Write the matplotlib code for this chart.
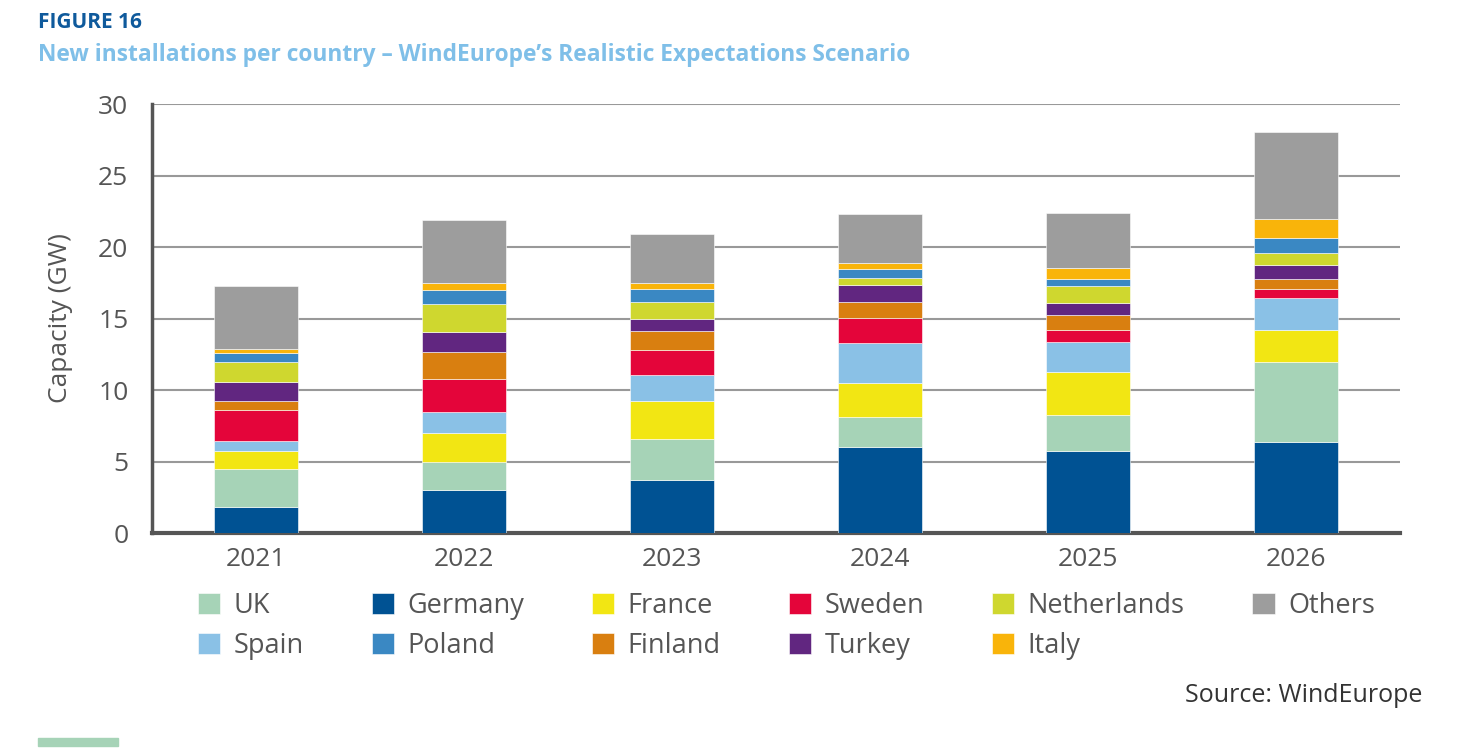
import numpy as np
import matplotlib
matplotlib.use("Agg")
from matplotlib import pyplot as plt
from matplotlib.patches import Rectangle

# values (GW)
years = ["2021", "2022", "2023", "2024", "2025", "2026"]
germany = [1.84, 2.98, 3.73, 6.04, 5.76, 6.36]
uk = [2.64, 1.99, 2.84, 2.05, 2.51, 5.62]
france = [1.25, 2.02, 2.66, 2.40, 2.99, 2.22]
spain = [0.72, 1.49, 1.80, 2.77, 2.10, 2.23]
sweden = [2.15, 2.27, 1.79, 1.80, 0.84, 0.63]
finland = [0.63, 1.89, 1.28, 1.07, 1.07, 0.72]
turkey = [1.35, 1.44, 0.84, 1.23, 0.83, 0.96]
netherlands = [1.40, 1.91, 1.19, 0.45, 1.17, 0.86]
poland = [0.63, 0.98, 0.93, 0.65, 0.51, 1.05]
italy = [0.23, 0.51, 0.42, 0.42, 0.77, 1.31]
others = [4.46, 4.39, 3.41, 3.41, 3.83, 6.06]

# stacking order bottom -> top
stack = [("Germany", germany, "#005293"),
         ("UK", uk, "#A6D3B7"),
         ("France", france, "#F2E613"),
         ("Spain", spain, "#8AC1E6"),
         ("Sweden", sweden, "#E4053A"),
         ("Finland", finland, "#D97F10"),
         ("Turkey", turkey, "#612680"),
         ("Netherlands", netherlands, "#CFD72F"),
         ("Poland", poland, "#3A88C3"),
         ("Italy", italy, "#F9B40A"),
         ("Others", others, "#9D9D9D")]

# legend order (filled column by column)
legend_order = ["UK", "Spain", "Germany", "Poland", "France", "Finland",
                "Sweden", "Turkey", "Netherlands", "Italy", "Others"]

plt.rcParams['font.family'] = ['Open Sans', 'DejaVu Sans']
grey = "#555555"

fig = plt.figure(figsize=(14.66, 7.5), dpi=100)
ax = fig.add_axes([0.1037, 0.2893, 0.8513, 0.572])

x = np.arange(len(years))
bottom = np.zeros(len(years))
bars = {}
for name, vals, col in stack:
    bars[name] = ax.bar(x, vals, 0.4, bottom=bottom, color=col, label=name,
                        edgecolor="white", linewidth=0.4, zorder=3)
    bottom += np.array(vals)

ax.set_xlim(-0.5, 5.5)
ax.set_ylim(0, 30)
ax.set_yticks([0, 5, 10, 15, 20, 25, 30])
ax.set_xticks(x)
ax.set_xticklabels(years)
ax.yaxis.grid(True, color="#999999", linewidth=1.5, zorder=0)
ax.set_axisbelow(True)
ax.tick_params(axis="both", length=0, labelsize=19, labelcolor=grey)
ax.tick_params(axis="y", pad=17)
ax.tick_params(axis="x", pad=10)
for s in ["top", "right"]:
    ax.spines[s].set_visible(False)
ax.spines["left"].set_color(grey)
ax.spines["left"].set_linewidth(2.5)
ax.spines["bottom"].set_color(grey)
ax.spines["bottom"].set_linewidth(3)
ax.set_ylabel("Capacity (GW)", fontsize=19, color=grey, labelpad=18)

handles = [bars[n] for n in legend_order]
fig.legend(handles, legend_order, ncol=6, loc="upper left",
           bbox_to_anchor=(198 / 1466, 1 - 592 / 750), frameon=False,
           fontsize=19.5, labelcolor=grey, handlelength=0.82, handleheight=0.82,
           handletextpad=0.5, columnspacing=2.5, labelspacing=0.45,
           borderpad=0, borderaxespad=0)

fig.text(38 / 1466, 1 - 22 / 750, "FIGURE 16", fontsize=15, fontweight="bold",
         color="#0F5A9C", va="center", ha="left")
fig.text(38 / 1466, 1 - 55 / 750,
         "New installations per country \u2013 WindEurope\u2019s Realistic Expectations Scenario",
         fontsize=16.4, fontweight="bold", color="#7FBFE8", va="center", ha="left")
fig.text(1422 / 1466, 1 - 695 / 750, "Source: WindEurope", fontsize=18,
         color="#333333", va="center", ha="right")
fig.patches.append(Rectangle((38 / 1466, 4 / 750), 80 / 1466, 8 / 750,
                             transform=fig.transFigure, color="#A6D3B7"))

fig.savefig("out.png", dpi=100)
